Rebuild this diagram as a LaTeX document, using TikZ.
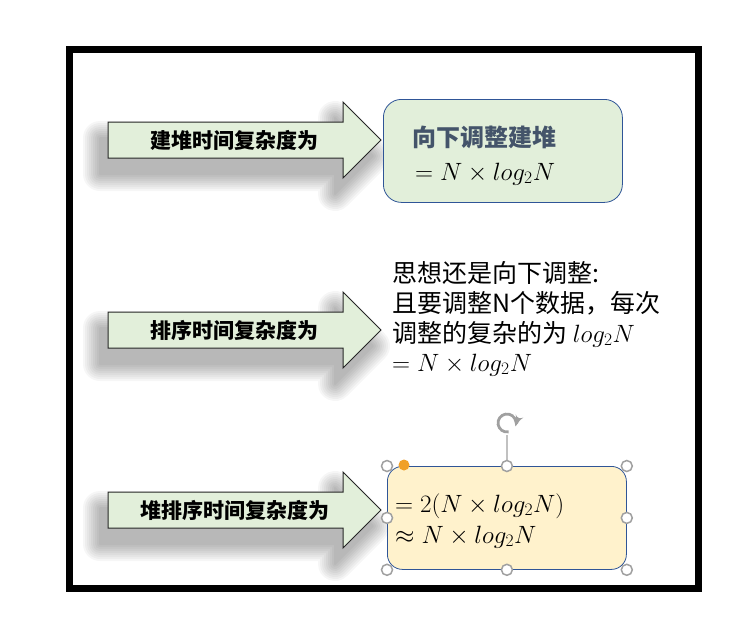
\RequirePackage{fix-cm}
\documentclass[tikz,border=0pt]{standalone}
\usepackage{fontspec}
\usepackage{amsmath}
\usepackage{amssymb}
\newfontfamily\cjk{Noto Sans CJK SC}
\usetikzlibrary{arrows}

\definecolor{arrowgreen}{RGB}{226,239,218}
\definecolor{boxyellow}{RGB}{255,242,204}
\definecolor{boxblue}{RGB}{47,85,151}
\definecolor{titlegray}{RGB}{68,84,106}
\definecolor{handlegray}{RGB}{160,160,160}
\definecolor{handleorange}{RGB}{240,160,40}

% outline of a fat arrow, #1 = vertical middle
\newcommand{\fatarrow}[1]{(108,#1-18) -- (343,#1-18) -- (343,#1-38) -- (381,#1)
  -- (343,#1+38) -- (343,#1+18) -- (108,#1+18) -- cycle}

\begin{document}
\begin{tikzpicture}[x=1pt,y=-1pt]
\tikzset{arrowbody/.style = {fill=arrowgreen,draw=black!85,line width=1pt}}
\tikzset{arrowshadow/.style = {fill=black,draw=black,line join=round}}
\tikzset{arrowtext/.style = {inner sep=0pt,font=\cjk\bfseries\fontsize{21}{25}\selectfont}}
\tikzset{greenbox/.style = {rectangle,rounded corners=18pt,fill=arrowgreen,draw=boxblue,line width=0.8pt,anchor=north west}}
\tikzset{yellowbox/.style = {rectangle,rounded corners=15pt,fill=boxyellow,draw=boxblue,line width=0.8pt,anchor=north west}}
\tikzset{note/.style = {anchor=base west,inner sep=0pt,font=\cjk\fontsize{25}{30}\selectfont}}
\tikzset{formula/.style = {anchor=base west,inner sep=0pt,font=\fontsize{25}{30}\selectfont}}
\tikzset{handle/.style = {shape=circle,draw=handlegray,fill=white,line width=1.5pt,minimum size=11pt,inner sep=0pt}}
\useasboundingbox (0,0) rectangle (750,619);
% frame
\draw[line width=7pt] (69.5,49.5) rectangle (698.5,588.5);
% arrows
\foreach \y in {140,330,510} {
  \foreach \w in {34,30,...,2} {
    \begin{scope}[transparency group,opacity=0.035]
      \filldraw[arrowshadow,line width=\w pt,shift={(-8,16)}] \fatarrow{\y};
    \end{scope}
  }
  \filldraw[arrowbody] \fatarrow{\y};
}
\node[arrowtext] (build) at (234,140) {建堆时间复杂度为};
\node[arrowtext] (sort)  at (234,330) {排序时间复杂度为};
\node[arrowtext] (total) at (235,510) {堆排序时间复杂度为};
% boxes
\node[greenbox,minimum width=239pt,minimum height=103pt] (heapify) at (383,99) {};
\node[anchor=base west,inner sep=0pt,text=titlegray,font=\cjk\bfseries\fontsize{24}{28}\selectfont] (title) at (412,146) {向下调整建堆};
\node[formula] (cost1) at (415,180) {$= N \times log_2 N$};
\node[note] (idea1) at (392,282) {思想还是向下调整:};
\node[note] (idea2) at (392,312) {且要调整N个数据，每次};
\node[note] (idea3) at (392,342) {调整的复杂的为 $log_2 N$};
\node[formula] (cost2) at (392,371) {$= N \times log_2 N$};
\node[yellowbox,minimum width=239pt,minimum height=103pt] (result) at (387,466) {};
\node[formula] (cost3) at (395,512) {$= 2(N \times log_2 N)$};
\node[formula] (cost4) at (395,543) {$\approx N \times log_2 N$};
% selection handles
\node[handle] (hnw) at (result.north west) {};
\node[handle] (hn)  at (result.north) {};
\node[handle] (hne) at (result.north east) {};
\node[handle] (hw)  at (result.west) {};
\node[handle] (he)  at (result.east) {};
\node[handle] (hsw) at (result.south west) {};
\node[handle] (hs)  at (result.south) {};
\node[handle] (hse) at (result.south east) {};
\node[shape=circle,fill=handleorange,minimum size=11pt,inner sep=0pt] (hadj) at (404,465) {};
\node[shape=circle,minimum size=24pt,inner sep=0pt] (rot) at (507,423) {};
\draw[handlegray,line width=1.2pt] (hn) -- (rot);
\draw[handlegray,line width=2.8pt,->,>=latex'] (rot.center) ++(-80:9pt)
  arc[start angle=-80,end angle=-382,radius=9pt];
\end{tikzpicture}
\end{document}
